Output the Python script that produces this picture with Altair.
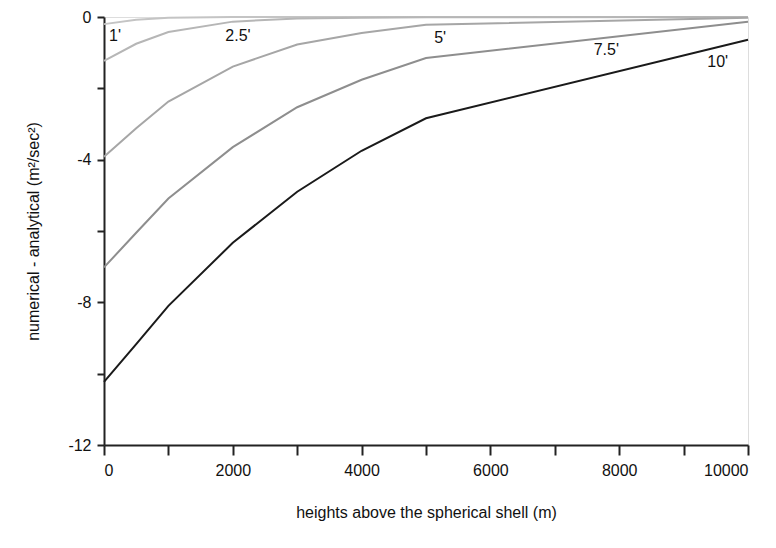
import altair as alt
import pandas as pd

heights = [0, 500, 1000, 2000, 3000, 4000, 5000, 10000]
series_names = ["1'", "2.5'", "5'", "7.5'", "10'"]
diff_1 = [-0.20, -0.08, -0.02, 0.0, 0.0, 0.0, 0.0, 0.0]
diff_2_5 = [-1.23, -0.75, -0.42, -0.13, -0.04, -0.02, -0.01, 0.0]
diff_5 = [-3.92, -3.12, -2.37, -1.39, -0.77, -0.45, -0.22, -0.02]
diff_7_5 = [-7.02, -6.05, -5.09, -3.65, -2.53, -1.76, -1.15, -0.13]
diff_10 = [-10.23, -9.17, -8.10, -6.33, -4.90, -3.75, -2.84, -0.64]
colors = ["#c4c4c4", "#b6b6b6", "#a6a6a6", "#8e8e8e", "#1a1a1a"]

label_x = [170, 2080, 5220, 7800, 9530]
label_y = [-0.53, -0.53, -0.59, -0.93, -1.26]

all_series = [diff_1, diff_2_5, diff_5, diff_7_5, diff_10]
rows = []
for i, (name, vals) in enumerate(zip(series_names, all_series)):
    for h, v in zip(heights, vals):
        rows.append({"h": h, "v": v, "series": name, "order": i})
df = pd.DataFrame(rows)
lab = pd.DataFrame({"h": label_x, "v": label_y, "t": series_names})

FONT = "Liberation Sans"
FS = 16

xscale = alt.Scale(domain=[0, 10000], nice=False)
yscale = alt.Scale(domain=[-12, 0], nice=False)

lines = alt.Chart(df).mark_line(strokeWidth=2).encode(
    x=alt.X("h:Q", scale=xscale, title="heights above the spherical shell (m)",
            axis=alt.Axis(values=list(range(0, 10001, 1000)),
                          labelExpr="datum.value % 2000 == 0 ? '' + datum.value : ''",
                          grid=False, tickSize=10, tickWidth=2,
                          domainWidth=2, domainColor="#222", tickColor="#222",
                          labelFontSize=FS, labelPadding=7, labelColor="#111",
                          titleFontSize=FS, titleFontWeight="normal", titlePadding=26,
                          titleColor="#111", labelFont=FONT, titleFont=FONT)),
    y=alt.Y("v:Q", scale=yscale, title="numerical - analytical (m²/sec²)",
            axis=alt.Axis(values=list(range(-12, 1, 2)),
                          labelExpr="datum.value % 4 == 0 ? '' + datum.value : ''",
                          grid=False, tickSize=7, tickWidth=2,
                          domainWidth=2, domainColor="#222", tickColor="#222",
                          labelFontSize=FS, labelPadding=6, labelColor="#111",
                          titleFontSize=FS, titleFontWeight="normal", titlePadding=26,
                          titleColor="#111", labelFont=FONT, titleFont=FONT)),
    color=alt.Color("series:N", scale=alt.Scale(domain=series_names, range=colors), legend=None),
    order=alt.Order("order:Q"),
)

texts = alt.Chart(lab).mark_text(fontSize=FS, font=FONT, color="#111", align="center", baseline="middle").encode(
    x=alt.X("h:Q", scale=xscale),
    y=alt.Y("v:Q", scale=yscale),
    text="t:N",
)

chart = alt.layer(lines, texts).properties(
    width=644, height=428,
    autosize=alt.AutoSizeParams(type="none"),
    padding={"left": 96, "top": 9, "right": 20, "bottom": 90},
).configure_view(stroke="#222", strokeWidth=2).configure(background="white")

chart.save("out.html", embed_options={"renderer": "svg", "actions": False})
